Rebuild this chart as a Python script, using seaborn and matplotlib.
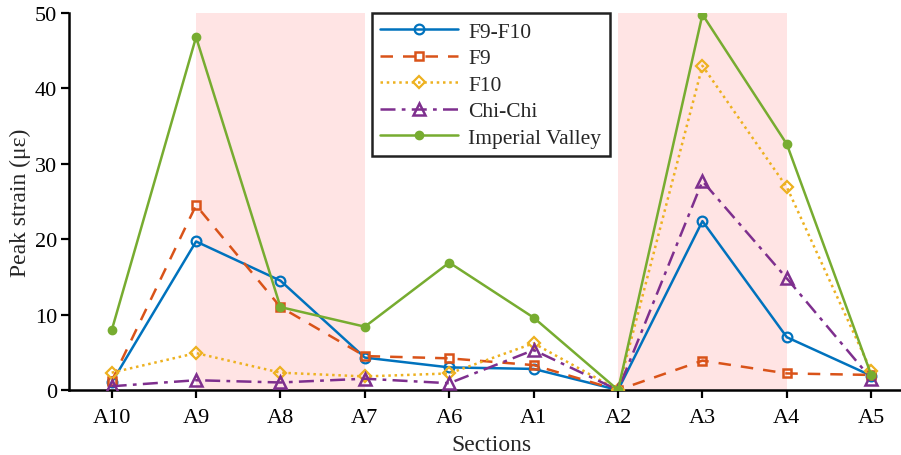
import matplotlib
matplotlib.use("Agg")
import matplotlib.pyplot as plt
import seaborn as sns
import numpy as np

sections = ["A10", "A9", "A8", "A7", "A6", "A1", "A2", "A3", "A4", "A5"]
f9_f10 = [1.0, 19.7, 14.5, 4.3, 3.0, 2.8, 0.0, 22.4, 7.0, 1.9]
f9 = [1.2, 24.5, 11.0, 4.5, 4.2, 3.3, 0.0, 3.9, 2.2, 2.0]
f10 = [2.3, 4.9, 2.3, 1.8, 2.2, 6.2, 0.0, 43.0, 26.9, 2.5]
chichi = [0.5, 1.3, 1.0, 1.5, 0.9, 5.3, 0.0, 27.7, 14.8, 1.5]
imperial = [7.9, 46.8, 11.0, 8.4, 16.9, 9.6, 0.0, 49.8, 32.6, 2.0]
series_names = ["F9-F10", "F9", "F10", "Chi-Chi", "Imperial Valley"]
shaded = [("A9", "A7"), ("A2", "A4")]

sns.set_style("ticks")
plt.rcParams["font.family"] = ["Liberation Serif", "DejaVu Serif"]
plt.rcParams["mathtext.fontset"] = "stix"

fig = plt.figure(figsize=(9.01, 4.56), dpi=100)
ax = fig.add_axes([0.0771, 0.1425, 0.9367, 0.8268])

pos = np.arange(len(sections))
for a, b in shaded:
    ax.axvspan(sections.index(a), sections.index(b), color="#ffe4e4", lw=0, zorder=0)

colors = ["#0072BD", "#D95319", "#EDB120", "#7E2F8E", "#77AC30"]
styles = [
    dict(linestyle="-", marker="o", markersize=7, markerfacecolor="none", markeredgewidth=1.6),
    dict(linestyle=(0, (5, 4)), marker="s", markersize=6, markerfacecolor="none", markeredgewidth=1.8),
    dict(linestyle=(0, (1, 1.5)), marker="D", markersize=6, markerfacecolor="none", markeredgewidth=1.6),
    dict(linestyle=(0, (6, 2.5, 1.5, 2.5)), marker="^", markersize=8, markerfacecolor="none", markeredgewidth=1.8),
    dict(linestyle="-", marker="o", markersize=6, markeredgewidth=1.0),
]
data = [f9_f10, f9, f10, chichi, imperial]
for name, vals, st, c in zip(series_names, data, styles, colors):
    st = dict(st)
    if "markerfacecolor" not in st:
        st["markerfacecolor"] = c
    sns.lineplot(x=pos, y=vals, ax=ax, label=name, linewidth=1.8, zorder=3,
                 color=c, markeredgecolor=c, **st)

ax.set_xlim(-0.5, 9.5)
ax.set_ylim(0, 50)
ax.set_xticks(pos)
ax.set_xticklabels(sections)
ax.set_yticks([0, 10, 20, 30, 40, 50])
ax.set_xlabel("Sections", fontsize=17, labelpad=5)
ax.set_ylabel("Peak strain (με)", fontsize=17, labelpad=3)
ax.tick_params(axis="both", labelsize=16, direction="out", length=6, width=1.6, colors="black")
ax.tick_params(axis="x", pad=7)
ax.tick_params(axis="y", pad=3)
for s in ["top", "right"]:
    ax.spines[s].set_visible(False)
for s in ["left", "bottom"]:
    ax.spines[s].set_linewidth(1.8)
    ax.spines[s].set_color("black")

leg = ax.legend(loc="upper left", bbox_to_anchor=(0.358, 1.0), fontsize=15.5, frameon=True,
                fancybox=False, edgecolor="#222222", handlelength=3.6, borderpad=0.4,
                labelspacing=0.3, handletextpad=0.5, borderaxespad=0)
leg.get_frame().set_linewidth(1.8)
leg.get_frame().set_facecolor("white")
leg.get_frame().set_alpha(1)

fig.savefig("out.png", dpi=100)
